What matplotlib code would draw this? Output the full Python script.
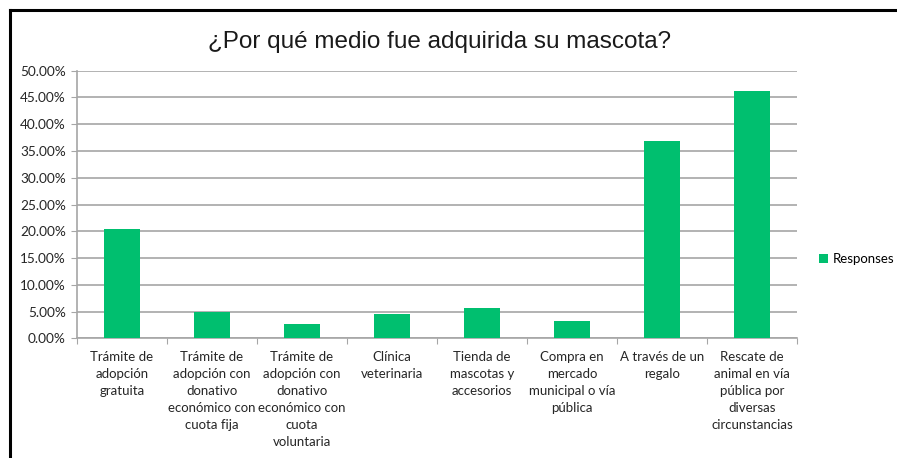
import matplotlib
matplotlib.use('Agg')
import matplotlib.pyplot as plt
from matplotlib.ticker import FuncFormatter
import numpy as np

categorias = ['Trámite de\nadopción\ngratuita',
              'Trámite de\nadopción con\ndonativo\neconómico con\ncuota fija',
              'Trámite de\nadopción con\ndonativo\neconómico con\ncuota\nvoluntaria',
              'Clínica\nveterinaria',
              'Tienda de\nmascotas y\naccesorios',
              'Compra en\nmercado\nmunicipal o vía\npública',
              'A través de un\nregalo',
              'Rescate de\nanimal en vía\npública por\ndiversas\ncircunstancias']
respuestas = [20.34, 4.85, 2.72, 4.59, 5.60, 3.28, 36.80, 46.30]
titulo = '¿Por qué medio fue adquirida su mascota?'

verde = '#00bf6f'
gris = '#a6a6a6'
fuente = 'Lato'

fig = plt.figure(figsize=(8.97, 4.58), dpi=100)
ax = fig.add_axes([0.0858, 0.2613, 0.8027, 0.5843])

x = np.arange(len(categorias))
ax.bar(x, respuestas, width=0.4, color=verde, label='Responses', zorder=3)

ax.set_xlim(-0.5, len(categorias) - 0.5)
ax.set_ylim(0, 50)
ax.set_yticks(np.arange(0, 51, 5))
ax.yaxis.set_major_formatter(FuncFormatter(lambda v, p: '%.2f%%' % v))
ax.grid(axis='y', color=gris, linewidth=1.2, zorder=0)

# ticks de categoria en los limites, etiquetas centradas
ax.set_xticks(np.arange(-0.5, len(categorias), 1))
ax.set_xticklabels([])
ax.set_xticks(x, minor=True)
ax.set_xticklabels(categorias, minor=True, fontsize=9.5, family=fuente,
                   color='#262626', linespacing=1.5, va='top')
ax.tick_params(axis='x', which='minor', length=0, pad=9)
ax.tick_params(axis='x', which='major', length=4, color=gris, direction='out')
ax.tick_params(axis='y', length=4, color=gris, direction='out', pad=4,
               labelsize=9.8, labelcolor='#262626')
for lab in ax.get_yticklabels():
    lab.set_family(fuente)

for s in ['top', 'right']:
    ax.spines[s].set_visible(False)
ax.spines['left'].set_color(gris)
ax.spines['bottom'].set_color(gris)
ax.spines['left'].set_linewidth(1.2)
ax.spines['bottom'].set_linewidth(1.2)

fig.text(0.4905, 0.908, titulo, ha='center', va='center', fontsize=17.5,
         family='Liberation Sans', color='#1a1a1a')

fig.legend(loc='center left', bbox_to_anchor=(0.9, 0.435), frameon=False,
           prop={'family': fuente, 'size': 9.5}, handlelength=0.7,
           handleheight=0.7, handletextpad=0.3)

# marco negro del recuadro (solo arriba e izquierda visibles)
fig.add_artist(plt.Line2D([0.0111, 0.0111], [0, 0.979], color='black', linewidth=2.2))
fig.add_artist(plt.Line2D([0.0111, 1.0], [0.979, 0.979], color='black', linewidth=2.2))

fig.savefig('out.png', dpi=100)
